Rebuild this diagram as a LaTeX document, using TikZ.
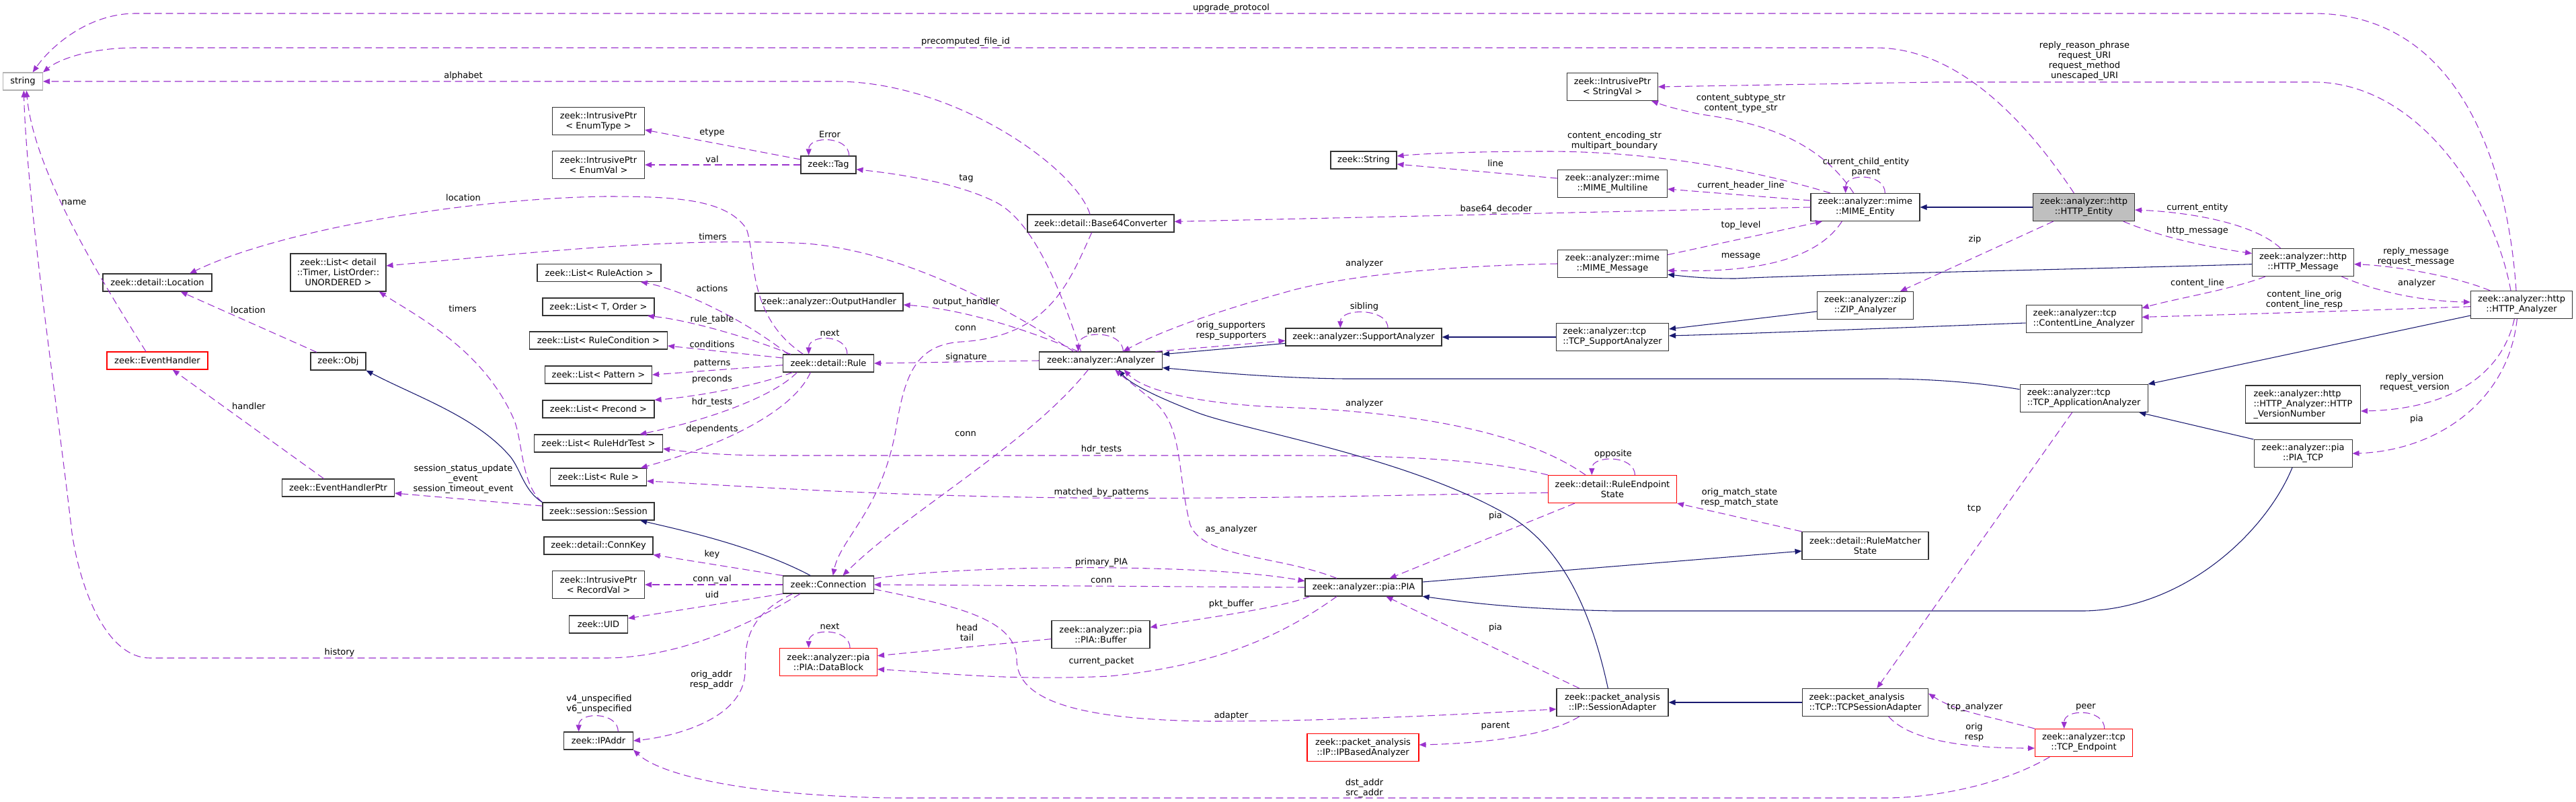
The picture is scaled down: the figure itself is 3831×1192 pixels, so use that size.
\documentclass[tikz,border=0pt]{standalone}
\usepackage{fontspec}
\usepackage{tikz}
\usetikzlibrary{arrows.meta}
\newfontfamily\dxfont{DejaVu Sans}
\newcommand\dxf{\dxfont\fontsize{9.75}{11.25}\selectfont}
\definecolor{edgepurple}{HTML}{9A32CD}
\definecolor{edgenavy}{HTML}{191970}

\begin{document}
\begin{tikzpicture}[x=0.75pt,y=-0.75pt,
  box/.style={draw=black!80,fill=white,line width=0.8pt,inner xsep=2pt,inner ysep=0pt,minimum height=19.5pt,font=\dxf,align=center},
  two/.style={box,minimum height=30.75pt},
  three/.style={box,minimum height=42pt},
  lbl/.style={font=\dxf,inner sep=0pt,align=center},
  memb/.style={draw=edgepurple,line width=0.8pt,dash pattern=on 8pt off 4.5pt,-{Triangle[length=7.5pt,width=6pt]}},
  inh/.style={draw=edgenavy,line width=0.8pt,-{Triangle[length=7.5pt,width=6pt]}}]
\fill[white] (0,0) rectangle (3831,1192);
\useasboundingbox (0,0) rectangle (3831,1192);

% classes, column by column
\node[box,draw=black!30,minimum width=44.25pt] (str) at (34,121) {string};
\node[box,minimum width=121.5pt] (location) at (234,420) {zeek::detail::Location};
\node[box,draw=red,minimum width=112.5pt] (evhandler) at (234,536) {zeek::EventHandler};
\node[three,minimum width=106.5pt] (timerlist) at (503,405) {zeek::List< detail\\::Timer, ListOrder::\\UNORDERED >};
\node[box,minimum width=61.5pt] (obj) at (503,537) {zeek::Obj};
\node[box,minimum width=125.25pt] (evhandlerptr) at (503,725) {zeek::EventHandlerPtr};
\node[two,minimum width=102.75pt] (enumtype) at (890,180) {zeek::IntrusivePtr\\< EnumType >};
\node[two,minimum width=102.75pt] (enumval) at (890,245) {zeek::IntrusivePtr\\< EnumVal >};
\node[box,minimum width=138pt] (ruleaction) at (891,405.5) {zeek::List< RuleAction >};
\node[box,minimum width=124.5pt] (torder) at (890,456) {zeek::List< T, Order >};
\node[box,minimum width=153.75pt] (rulecond) at (890,506) {zeek::List< RuleCondition >};
\node[box,minimum width=119.25pt] (pattern) at (890,557) {zeek::List< Pattern >};
\node[box,minimum width=124.5pt] (precond) at (890,608) {zeek::List< Precond >};
\node[box,minimum width=143.25pt] (hdrtest) at (890,659) {zeek::List< RuleHdrTest >};
\node[box,minimum width=107.25pt] (rulelist) at (890,709) {zeek::List< Rule >};
\node[box,minimum width=124.5pt] (session) at (890,760) {zeek::session::Session};
\node[box,minimum width=121.5pt] (connkey) at (890,811) {zeek::detail::ConnKey};
\node[two,minimum width=102.75pt] (recordval) at (890,869) {zeek::IntrusivePtr\\< RecordVal >};
\node[box,minimum width=65.25pt] (uid) at (890,928) {zeek::UID};
\node[box,minimum width=77.25pt] (ipaddr) at (890,1101) {zeek::IPAddr};
\node[box,minimum width=61.5pt] (tag) at (1232,245) {zeek::Tag};
\node[box,minimum width=165pt] (outhandler) at (1233,449) {zeek::analyzer::OutputHandler};
\node[box,minimum width=101.25pt] (rule) at (1232,540) {zeek::detail::Rule};
\node[box,minimum width=101.25pt] (conn) at (1232,869) {zeek::Connection};
\node[two,draw=red,minimum width=108.75pt] (datablock) at (1232,984) {zeek::analyzer::pia\\::PIA::DataBlock};
\node[box,minimum width=163.5pt] (b64) at (1637,332) {zeek::detail::Base64Converter};
\node[box,minimum width=137.25pt] (analyzer) at (1637,536) {zeek::analyzer::Analyzer};
\node[two,minimum width=109.5pt] (piabuf) at (1637,943) {zeek::analyzer::pia\\::PIA::Buffer};
\node[box,minimum width=73.5pt] (zstring) at (2028,238) {zeek::String};
\node[box,minimum width=174pt] (supportan) at (2028,501) {zeek::analyzer::SupportAnalyzer};
\node[box,minimum width=130.5pt] (pia) at (2028,873) {zeek::analyzer::pia::PIA};
\node[two,draw=red,minimum width=124.5pt] (ipbased) at (2027,1111) {zeek::packet\_analysis\\::IP::IPBasedAnalyzer};
\node[two,minimum width=101.25pt] (stringval) at (2398,129) {zeek::IntrusivePtr\\< StringVal >};
\node[two,minimum width=122.25pt] (multiline) at (2398,273) {zeek::analyzer::mime\\::MIME\_Multiline};
\node[two,minimum width=122.25pt] (mimemsg) at (2398,392) {zeek::analyzer::mime\\::MIME\_Message};
\node[two,align=left,minimum width=125.25pt] (tcpsupport) at (2398,501) {zeek::analyzer::tcp\\::TCP\_SupportAnalyzer};
\node[two,draw=red,minimum width=143.25pt] (ruleep) at (2398,727) {zeek::detail::RuleEndpoint\\State};
\node[two,minimum width=124.5pt] (sessadapter) at (2398,1044) {zeek::packet\_analysis\\::IP::SessionAdapter};
\node[two,minimum width=121.5pt] (mimeentity) at (2774,308) {zeek::analyzer::mime\\::MIME\_Entity};
\node[two,minimum width=107.25pt] (zip) at (2774,454) {zeek::analyzer::zip\\::ZIP\_Analyzer};
\node[two,minimum width=141pt] (rulematcher) at (2774,811) {zeek::detail::RuleMatcher\\State};
\node[two,align=left,minimum width=140.25pt] (tcpsessadapter) at (2774,1044) {zeek::packet\_analysis\\::TCP::TCPSessionAdapter};
\node[two,fill=black!25,minimum width=113.25pt] (httpentity) at (3099,308) {zeek::analyzer::http\\::HTTP\_Entity};
\node[two,align=left,minimum width=129pt] (contentline) at (3099,474) {zeek::analyzer::tcp\\::ContentLine\_Analyzer};
\node[two,align=left,minimum width=142.5pt] (tcpapp) at (3099,592) {zeek::analyzer::tcp\\::TCP\_ApplicationAnalyzer};
\node[two,draw=red,minimum width=108.75pt] (tcpendpoint) at (3099,1104) {zeek::analyzer::tcp\\::TCP\_Endpoint};
\node[two,minimum width=113.25pt] (httpmsg) at (3425,390) {zeek::analyzer::http\\::HTTP\_Message};
\node[three,align=left,minimum width=128.25pt] (version) at (3425,601) {zeek::analyzer::http\\::HTTP\_Analyzer::HTTP\\\_VersionNumber};
\node[two,minimum width=109.5pt] (piatcp) at (3425,674) {zeek::analyzer::pia\\::PIA\_TCP};
\node[two,minimum width=113.25pt] (httpan) at (3750,453) {zeek::analyzer::http\\::HTTP\_Analyzer};

% string members
\draw[memb] ([xshift=-6pt]httpan.north) .. controls (3730,250) and (3660,20) .. (3440,20) -- (202,20) .. controls (130,20) and (75,70) .. ([xshift=11pt]str.north);
\draw[memb] ([xshift=-11pt]httpentity.north) .. controls (3000,160) and (2900,71) .. (2789,71) -- (202,71) .. controls (130,71) and (85,90) .. (str.north east);
\draw[memb] ([xshift=-12pt]b64.north) .. controls (1600,250) and (1420,121) .. (1242,121) -- (str.east);
\draw[memb] ([xshift=-12.75pt]evhandler.north) .. controls (140,400) and (50,250) .. ([xshift=4pt]str.south);
\draw[memb] ([xshift=-31.5pt]conn.south) .. controls (1080,950) and (980,978) .. (900,978) -- (223,978) .. controls (160,978) and (120,880) .. (107,792) .. controls (85,600) and (40,300) .. ([xshift=1pt]str.south);

% tag
\draw[memb] ([yshift=6pt]tag.west) -- ([yshift=-9.75pt]enumtype.east);
\draw[memb] (tag.west) -- (enumval.east);
\draw[memb] ([xshift=23pt]tag.north) .. controls +(0,-30) and +(0,-30) .. ([xshift=-22pt]tag.north);
\draw[memb] ([xshift=-22pt]analyzer.north) .. controls (1580,440) and (1540,330) .. (1480,300) .. controls (1420,270) and (1330,258) .. ([yshift=-5pt]tag.east);

% timers, location, handlers
\draw[memb] ([xshift=-30pt]analyzer.north) .. controls (1500,460) and (1350,375) .. (1200,362) .. controls (1000,352) and (800,375) .. ([yshift=7.5pt]timerlist.east);
\draw[memb] (session.north west) .. controls (775,720) and (778,660) .. (765,625) .. controls (720,520) and (620,470) .. ([xshift=-8pt]timerlist.south east);
\draw[memb] ([xshift=-24pt]obj.north) -- ([xshift=26pt]location.south);
\draw[memb] ([xshift=-28pt]rule.north) .. controls (1110,470) and (1125,380) .. (1110,340) .. controls (1080,295) and (1000,292) .. (900,292) .. controls (700,295) and (420,340) .. ([xshift=36pt]location.north);
\draw[memb] ([xshift=-16pt]evhandlerptr.north) -- ([xshift=17pt]evhandler.south);
\draw[memb] ([yshift=6pt]session.west) -- ([yshift=-6pt]evhandlerptr.east);
\draw[inh] (session.north west) .. controls (780,730) and (775,700) .. (760,680) .. controls (710,620) and (620,590) .. (obj.south east);
\draw[inh] ([xshift=-20pt]conn.north) .. controls (1120,810) and (1000,785) .. ([xshift=-16pt]session.south east);

% rule
\draw[memb] ([xshift=-45pt]rule.north) .. controls (1100,470) and (1010,430) .. ([xshift=-23pt]ruleaction.south east);
\draw[memb] ([xshift=-42pt]rule.north) .. controls (1110,500) and (1020,475) .. ([xshift=-8pt]torder.south east);
\draw[memb] ([yshift=6pt]rule.west) -- ([yshift=-6pt]rulecond.east);
\draw[memb] ([yshift=-2pt]rule.west) -- (pattern.east);
\draw[memb] ([xshift=-40pt]rule.south) .. controls (1120,575) and (1030,590) .. (precond.north east);
\draw[memb] ([xshift=-35pt]rule.south) .. controls (1150,590) and (1050,625) .. ([xshift=-26pt]hdrtest.north east);
\draw[memb] ([xshift=-20pt]rule.south) .. controls (1180,610) and (1080,660) .. ([xshift=-7pt]rulelist.north east);
\draw[memb] ([xshift=21pt]rule.north) .. controls +(0,-30) and +(0,-30) .. ([xshift=-22pt]rule.north);
\draw[memb] (analyzer.west) -- (rule.east);
\draw[memb] (ruleep.north west) .. controls (2200,680) and (2050,677) .. (1920,677) -- (1150,677) .. controls (1060,677) and (1010,670) .. ([yshift=-6pt]hdrtest.east);
\draw[memb] ([yshift=-4pt]ruleep.west) .. controls (2100,735) and (1900,742) .. (1600,740) .. controls (1300,737) and (1100,722) .. ([yshift=-4.5pt]rulelist.east);

% analyzer
\draw[memb] ([xshift=-25pt]analyzer.north) .. controls (1540,495) and (1440,460) .. ([yshift=-3pt]outhandler.east);
\draw[memb] ([xshift=25pt]analyzer.north) .. controls +(0,-32) and +(0,-32) .. ([xshift=-25pt]analyzer.north);
\draw[memb] ([xshift=-14pt]analyzer.south) .. controls (1530,660) and (1350,760) .. ([xshift=16pt]conn.north);
\draw[memb] ([xshift=-10pt]b64.south) .. controls (1590,420) and (1560,500) .. (1430,508) .. controls (1360,512) and (1345,560) .. (1332,640) .. controls (1310,760) and (1250,800) .. ([xshift=5pt]conn.north);
\draw[inh] ([yshift=-7pt]supportan.west) -- ([yshift=7pt]analyzer.east);
\draw[memb] ([xshift=-8pt]analyzer.north east) -- ([yshift=-4pt]supportan.west);
\draw[inh] ([yshift=10pt]tcpapp.west) .. controls (2950,570) and (2880,563) .. (2800,563) -- (2000,563) .. controls (1900,562) and (1800,553) .. ([yshift=-8pt]analyzer.east);
\draw[memb] ([xshift=27pt]supportan.north) .. controls +(0,-30) and +(0,-30) .. ([xshift=-26pt]supportan.north);
\draw[inh] (tcpsupport.west) -- (supportan.east);
\draw[inh] ([yshift=-6.75pt]zip.west) -- ([yshift=9pt]tcpsupport.east);
\draw[inh] ([yshift=-4.5pt]contentline.west) .. controls (2800,488) and (2600,496) .. ([yshift=1.5pt]tcpsupport.east);
\draw[inh] ([yshift=-2pt]httpmsg.west) .. controls (3100,400) and (2700,408) .. (2581,414) .. controls (2530,414) and (2500,410) .. ([yshift=-12pt]mimemsg.east);
\draw[inh] (httpentity.west) -- (mimeentity.east);

% http
\draw[memb] ([xshift=-12pt]httpan.north) .. controls (3710,300) and (3600,122) .. (3440,122) -- (2880,122) -- (stringval.east);
\draw[memb] ([xshift=-34pt]httpentity.south) -- ([xshift=39pt]zip.north);
\draw[memb] ([xshift=44pt]httpentity.south) .. controls (3220,355) and (3290,368) .. ([yshift=10pt]httpmsg.west);
\draw[memb] ([xshift=-25pt]httpmsg.north) .. controls (3350,330) and (3250,315) .. ([yshift=-3pt]httpentity.east);
\draw[memb] ([xshift=-35pt]httpan.north) .. controls (3650,410) and (3560,395) .. ([yshift=-2pt]httpmsg.east);
\draw[memb] ([xshift=43pt]httpmsg.south) .. controls (3550,440) and (3620,448) .. ([yshift=3pt]httpan.west);
\draw[memb] ([xshift=-42pt]httpmsg.south) .. controls (3320,430) and (3230,445) .. ([yshift=12pt]contentline.east);
\draw[memb] ([yshift=-2pt]httpan.west) .. controls (3500,462) and (3300,468) .. ([yshift=2pt]contentline.east);
\draw[inh] ([yshift=-12pt]httpan.west) -- (tcpapp.north east);
\draw[memb] ([xshift=-8pt]httpan.south) .. controls (3720,560) and (3640,608) .. ([yshift=-7.5pt]version.east);
\draw[memb] ([xshift=-5pt]httpan.south) .. controls (3730,600) and (3620,670) .. (piatcp.east);
\draw[inh] (piatcp.north west) -- ([xshift=-10pt]tcpapp.south east);

% pia
\draw[inh] ([xshift=-12pt]piatcp.south) .. controls (3370,790) and (3250,905) .. (3100,908) -- (2400,908) .. controls (2250,905) and (2180,895) .. ([yshift=-10pt]pia.east);
\draw[inh] ([yshift=6pt]pia.east) -- ([yshift=-6pt]rulematcher.west);
\draw[memb] (rulematcher.north west) -- (ruleep.south east);
\draw[memb] ([xshift=25pt]ruleep.north) .. controls +(0,-30) and +(0,-30) .. ([xshift=-23pt]ruleep.north);
\draw[memb] ([xshift=-30pt]ruleep.north) .. controls (2250,630) and (2050,610) .. (1900,605) .. controls (1780,600) and (1700,580) .. ([xshift=26pt]analyzer.south);
\draw[memb] ([xshift=-42pt]ruleep.south) -- ([xshift=29pt]pia.north);
\draw[inh] ([xshift=-5pt]sessadapter.north) .. controls (2365,900) and (2320,815) .. (2250,770) .. controls (2100,680) and (1850,640) .. (1780,613) .. controls (1720,590) and (1680,570) .. ([xshift=20pt]analyzer.south);
\draw[memb] ([xshift=-37pt]sessadapter.north) -- ([xshift=25pt]pia.south);
\draw[inh] (tcpsessadapter.west) -- (sessadapter.east);
\draw[memb] ([xshift=-37pt]sessadapter.south) .. controls (2300,1095) and (2200,1105) .. ([yshift=3pt]ipbased.east);
\draw[memb] ([yshift=-5pt]conn.east) .. controls (1420,900) and (1512,920) .. (1512,980) .. controls (1512,1040) and (1600,1070) .. (1800,1072) .. controls (2000,1072) and (2200,1060) .. ([yshift=-7.5pt]sessadapter.west);
\draw[memb] ([xshift=-13pt]tcpapp.south) -- ([xshift=13pt]tcpsessadapter.north);
\draw[memb] (tcpendpoint.north west) .. controls (2960,1065) and (2910,1058) .. ([yshift=10pt]tcpsessadapter.east);
\draw[memb] ([xshift=26pt]tcpsessadapter.south) .. controls (2840,1100) and (2920,1112) .. ([yshift=-6pt]tcpendpoint.west);
\draw[memb] ([xshift=23pt]tcpendpoint.north) .. controls +(0,-30) and +(0,-30) .. ([xshift=-22pt]tcpendpoint.north);
\draw[memb] ([xshift=-38pt]tcpendpoint.south) .. controls (2980,1165) and (2880,1186) .. (2802,1186) -- (1327,1186) .. controls (1100,1182) and (980,1150) .. (ipaddr.south east);
\draw[memb] ([xshift=22pt]ipaddr.north) .. controls +(0,-30) and +(0,-30) .. ([xshift=-22pt]ipaddr.north);

% connection
\draw[memb] (conn.north west) -- (connkey.south east);
\draw[memb] (conn.west) -- (recordval.east);
\draw[memb] (conn.south west) -- ([yshift=6.75pt]uid.east);
\draw[memb] ([xshift=-40pt]conn.south) .. controls (1100,920) and (1110,970) .. (1108,1000) .. controls (1105,1070) and (1000,1095) .. (ipaddr.east);
\draw[memb] (pia.west) -- (conn.east);
\draw[memb] ([yshift=7pt]conn.east) .. controls (1450,838) and (1800,838) .. ([yshift=7pt]pia.west);
\draw[memb] ([xshift=-60pt]pia.south) .. controls (1900,905) and (1780,920) .. ([yshift=8pt]piabuf.east);
\draw[memb] ([xshift=-30pt]pia.south) .. controls (1900,950) and (1800,990) .. (1650,1005) .. controls (1500,1012) and (1400,1000) .. ([yshift=-8pt]datablock.east);
\draw[memb] ([yshift=-5pt]piabuf.west) -- ([yshift=7pt]datablock.east);
\draw[memb] ([xshift=24pt]datablock.north) .. controls +(0,-30) and +(0,-30) .. ([xshift=-22pt]datablock.north);
\draw[memb] ([xshift=-30pt]pia.north) .. controls (1900,825) and (1790,830) .. (1770,780) .. controls (1750,700) and (1760,640) .. (1720,600) .. controls (1690,575) and (1670,560) .. ([xshift=16pt]analyzer.south);

% mime
\draw[memb] ([xshift=-39pt]mimeentity.north) .. controls (2600,250) and (2450,225) .. (2300,225) .. controls (2200,225) and (2120,228) .. ([yshift=4.5pt]zstring.east);
\draw[memb] ([yshift=6pt]multiline.west) -- ([yshift=-4.5pt]zstring.east);
\draw[memb] ([yshift=7.5pt]mimeentity.west) -- ([yshift=-6pt]multiline.east);
\draw[memb] (mimeentity.west) -- ([yshift=2pt]b64.east);
\draw[memb] ([xshift=-13pt]mimeentity.north) .. controls (2700,200) and (2600,180) .. (2530,170) .. controls (2490,162) and (2470,155) .. ([xshift=-7.5pt]stringval.south east);
\draw[memb] ([xshift=22pt]mimeentity.north) .. controls +(0,-30) and +(0,-30) .. ([xshift=-22pt]mimeentity.north);
\draw[memb] ([yshift=10pt]mimemsg.east) -- ([xshift=-48pt]mimeentity.south);
\draw[memb] ([xshift=-26pt]mimeentity.south) .. controls (2700,390) and (2600,405) .. ([yshift=-7.5pt]mimemsg.east);
\draw[memb] (mimemsg.west) .. controls (2150,395) and (2000,410) .. (1920,432) .. controls (1800,465) and (1720,495) .. ([xshift=25pt]analyzer.north);

% labels
\node[lbl] (lUpgrade) at (1831,12) {upgrade\_protocol};
\node[lbl] (lPrecomp) at (1436,62) {precomputed\_file\_id};
\node[lbl] (lAlphabet) at (689,113) {alphabet};
\node[lbl] (lName) at (110,301) {name};
\node[lbl] (lEtype) at (1059,197) {etype};
\node[lbl] (lError) at (1234,200) {Error};
\node[lbl] (lVal) at (1059,237) {val};
\node[lbl] (lTag) at (1437,265) {tag};
\node[lbl] (lLocA) at (689,294) {location};
\node[lbl] (lTimersA) at (1060,352) {timers};
\node[lbl] (lLocB) at (369,461) {location};
\node[lbl] (lTimersB) at (688,459) {timers};
\node[lbl] (lHandler) at (370,604) {handler};
\node[lbl] (lSessEv) at (689,712) {session\_status\_update\\\_event\\session\_timeout\_event};
\node[lbl] (lActions) at (1059,429) {actions};
\node[lbl] (lOutput) at (1437,449) {output\_handler};
\node[lbl] (lRuleTable) at (1059,475) {rule\_table};
\node[lbl] (lNextA) at (1234,495) {next};
\node[lbl] (lConnA) at (1436,488) {conn};
\node[lbl] (lParentA) at (1638,491) {parent};
\node[lbl] (lSupporters) at (1831,492) {orig\_supporters\\resp\_supporters};
\node[lbl] (lConditions) at (1059,512) {conditions};
\node[lbl] (lPatterns) at (1059,540) {patterns};
\node[lbl] (lSignature) at (1437,531) {signature};
\node[lbl] (lPreconds) at (1059,564) {preconds};
\node[lbl] (lHdrA) at (1059,598) {hdr\_tests};
\node[lbl] (lDependents) at (1059,638) {dependents};
\node[lbl] (lConnB) at (1436,645) {conn};
\node[lbl] (lHdrB) at (1638,668) {hdr\_tests};
\node[lbl] (lMatched) at (1638,732) {matched\_by\_patterns};
\node[lbl] (lAsAnalyzer) at (1831,787) {as\_analyzer};
\node[lbl] (lKey) at (1059,824) {key};
\node[lbl] (lConnVal) at (1059,861) {conn\_val};
\node[lbl] (lUid) at (1059,884) {uid};
\node[lbl] (lPrimary) at (1638,836) {primary\_PIA};
\node[lbl] (lConnC) at (1638,863) {conn};
\node[lbl] (lPktBuffer) at (1831,898) {pkt\_buffer};
\node[lbl] (lNextB) at (1234,931) {next};
\node[lbl] (lHeadTail) at (1438,940) {head\\tail};
\node[lbl] (lHistory) at (505,970) {history};
\node[lbl] (lCurPacket) at (1638,983) {current\_packet};
\node[lbl] (lAddr) at (1058,1011) {orig\_addr\\resp\_addr};
\node[lbl] (lUnspec) at (891,1047) {v4\_unspecified\\v6\_unspecified};
\node[lbl] (lAdapter) at (1831,1064) {adapter};
\node[lbl] (lSubtype) at (2589,154) {content\_subtype\_str\\content\_type\_str};
\node[lbl] (lEncoding) at (2401,210) {content\_encoding\_str\\multipart\_boundary};
\node[lbl] (lLine) at (2224,243) {line};
\node[lbl] (lChild) at (2775,248) {current\_child\_entity\\parent};
\node[lbl] (lHeaderLine) at (2589,276) {current\_header\_line};
\node[lbl] (lB64) at (2225,311) {base64\_decoder};
\node[lbl] (lTopLevel) at (2589,335) {top\_level};
\node[lbl] (lMessage) at (2589,381) {message};
\node[lbl] (lAnalyzerA) at (2029,392) {analyzer};
\node[lbl] (lSibling) at (2029,456) {sibling};
\node[lbl] (lAnalyzerB) at (2029,600) {analyzer};
\node[lbl] (lOpposite) at (2399,675) {opposite};
\node[lbl] (lMatchState) at (2587,740) {orig\_match\_state\\resp\_match\_state};
\node[lbl] (lPiaA) at (2224,767) {pia};
\node[lbl] (lPiaB) at (2224,933) {pia};
\node[lbl] (lParentB) at (2224,1079) {parent};
\node[lbl] (lSrcDst) at (2029,1172) {dst\_addr\\src\_addr};
\node[lbl] (lReply) at (3100,91) {reply\_reason\_phrase\\request\_URI\\request\_method\\unescaped\_URI};
\node[lbl] (lCurEntity) at (3268,309) {current\_entity};
\node[lbl] (lHttpMsg) at (3268,343) {http\_message};
\node[lbl] (lZip) at (2937,356) {zip};
\node[lbl] (lReplyMsg) at (3593,382) {reply\_message\\request\_message};
\node[lbl] (lContentLine) at (3268,421) {content\_line};
\node[lbl] (lAnalyzerC) at (3594,421) {analyzer};
\node[lbl] (lContentLineOR) at (3427,446) {content\_line\_orig\\content\_line\_resp};
\node[lbl] (lVersion) at (3591,569) {reply\_version\\request\_version};
\node[lbl] (lPiaC) at (3594,623) {pia};
\node[lbl] (lTcp) at (2936,756) {tcp};
\node[lbl] (lTcpAnalyzer) at (2937,1051) {tcp\_analyzer};
\node[lbl] (lOrigResp) at (2936,1088) {orig\\resp};
\node[lbl] (lPeer) at (3102,1051) {peer};
\end{tikzpicture}
\end{document}
